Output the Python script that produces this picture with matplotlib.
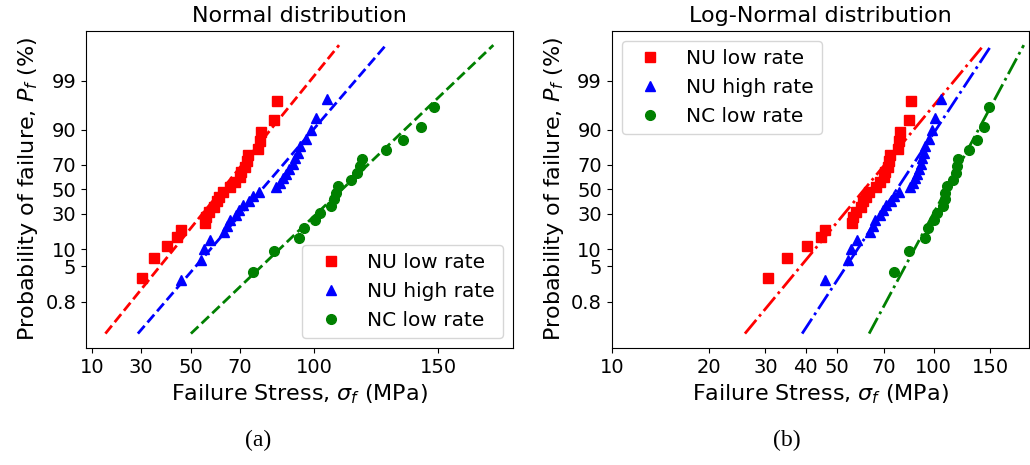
from statistics import NormalDist
import numpy as np
import matplotlib
matplotlib.use("Agg")
import matplotlib.pyplot as plt
from matplotlib.ticker import ScalarFormatter, NullLocator

# failure stresses (MPa), sorted
nu_low = [30.5, 35.0, 40.3, 44.6, 46.0, 55.7, 56.3, 57.5, 59.5, 60.5, 61.5, 63.0,
          66.0, 68.0, 70.0, 70.5, 72.0, 72.8, 73.3, 77.3, 78.0, 78.6, 83.5, 85.0]
nu_high = [46.1, 54.0, 55.5, 57.8, 63.6, 64.8, 65.8, 68.3, 69.7, 71.0, 73.5, 75.1, 77.8,
           84.4, 86.1, 87.5, 88.5, 89.8, 91.2, 92.1, 93.3, 94.1, 96.5, 98.6, 100.6, 105.0]
nc_low = [75.4, 83.7, 93.8, 95.9, 100.2, 102.3, 106.6, 108.0, 108.7, 109.6, 114.7,
          117.4, 118.5, 119.2, 128.9, 136.0, 143.0, 148.4]

labels = ["NU low rate", "NU high rate", "NC low rate"]
colors = ["red", "blue", "green"]
markers = ["s", "^", "o"]

# fitted parameters
norm_mu = [62.75, 78.8, 111.25]
norm_sigma = [15.29, 16.23, 19.79]
lognorm_mu = [4.109, 4.341, 4.696]      # mean of ln(stress)
lognorm_sigma = [0.2763, 0.219, 0.1789]  # std of ln(stress)

prob_ticks = [0.8, 5, 10, 30, 50, 70, 90, 99]
lin_ticks = [10, 30, 50, 70, 100, 150]
log_ticks = [10, 20, 30, 40, 50, 70, 100, 150]

nd = NormalDist()
ppf = np.vectorize(nd.inv_cdf)


def median_rank(n):
    i = np.arange(1, n + 1)
    return (i - 0.3) / (n + 0.4)


p_line = np.linspace(0.001, 0.999, 200)
z_line = ppf(p_line)

fig = plt.figure(figsize=(10.3, 4.65), dpi=100)
ax1 = fig.add_axes([0.0835, 0.2516, 0.4143, 0.6824])
ax2 = fig.add_axes([0.5939, 0.2516, 0.4054, 0.6824])

datasets = [nu_low, nu_high, nc_low]
for k, d in enumerate(datasets):
    z = ppf(median_rank(len(d)))
    ax1.plot(d, z, markers[k], color=colors[k], ms=7, label=labels[k])
    ax2.plot(d, z, markers[k], color=colors[k], ms=7, label=labels[k])
    ax1.plot(norm_mu[k] + norm_sigma[k] * z_line, z_line, "--", color=colors[k], lw=2)
    ax2.plot(np.exp(lognorm_mu[k] + lognorm_sigma[k] * z_line), z_line, "-.",
             color=colors[k], lw=2)

for ax in (ax1, ax2):
    ax.set_yticks(ppf(np.array(prob_ticks) / 100.0))
    ax.set_yticklabels([str(t) for t in prob_ticks])
    ax.tick_params(labelsize=14)
    ax.set_ylabel("Probability of failure, $P_f$ (%)", fontsize=16)
    ax.set_xlabel("Failure Stress, $\\sigma_f$ (MPa)", fontsize=16)

ax1.set_xticks(lin_ticks)
ax1.set_title("Normal distribution", fontsize=16)
ax1.legend(loc="lower right", fontsize=14.5)

ax2.set_xscale("log")
ax2.set_xlim(10, 198)
ax2.set_xticks(log_ticks)
ax2.xaxis.set_major_formatter(ScalarFormatter())
ax2.xaxis.set_minor_locator(NullLocator())
ax2.set_title("Log-Normal distribution", fontsize=16)
ax2.legend(loc="upper left", fontsize=14.5)

fig.text(258 / 1030, 1 - 440 / 465, "(a)", family="Liberation Serif", fontsize=17,
         ha="center", va="center")
fig.text(787 / 1030, 1 - 440 / 465, "(b)", family="Liberation Serif", fontsize=17,
         ha="center", va="center")

fig.savefig("out.png", dpi=100)
